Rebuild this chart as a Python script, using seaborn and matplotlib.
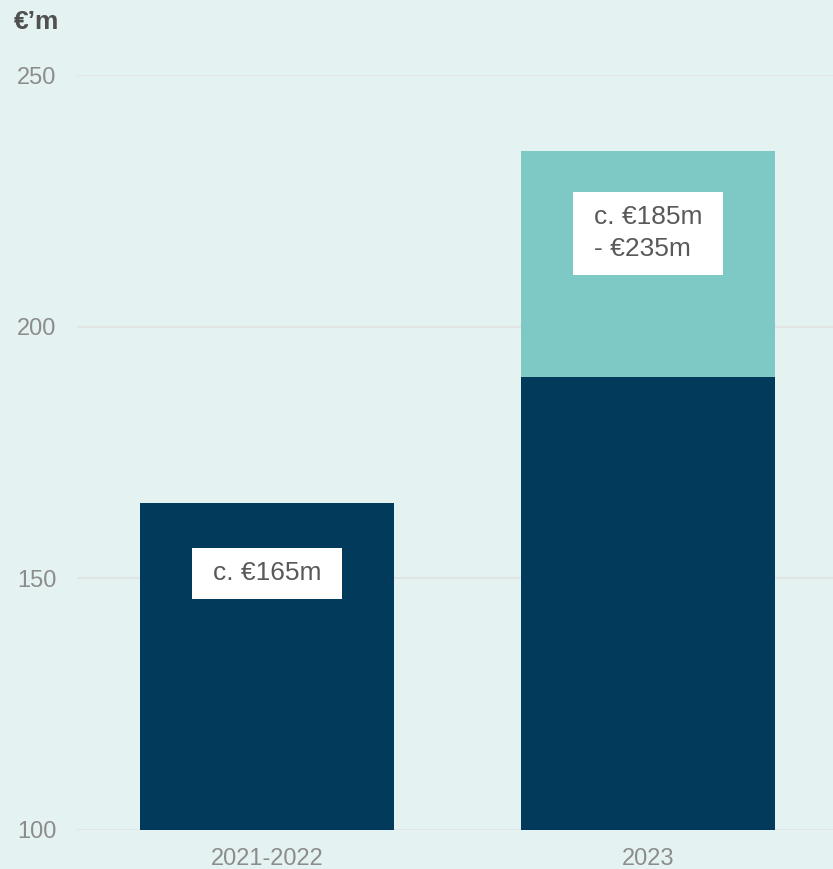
import matplotlib
matplotlib.use("Agg")
import matplotlib.pyplot as plt
import seaborn as sns
import pandas as pd
from matplotlib.patches import Rectangle

periods = ["2021-2022", "2023"]
base_values = [165, 190]
upper_values = [165, 235]
label_texts = ["c. €165m", "c. €185m\n- €235m"]
label_y = [151.0, 218.6]
y_ticks = [100, 150, 200, 250]

BG = "#E4F3F2"
NAVY = "#023A5C"
TEAL = "#7EC9C5"
GRID = "#E3E5E5"
TICK = "#8C8C8C"
TXT = "#595959"

sns.set_theme(style="white")
plt.rcParams["font.family"] = ["Liberation Sans", "DejaVu Sans"]

df = pd.DataFrame({"period": periods, "base": base_values, "upper": upper_values})

fig = plt.figure(figsize=(8.33, 8.69), dpi=100, facecolor=BG)
ax = fig.add_axes([77 / 833, 39 / 869, 756 / 833, 755 / 869])
ax.set_facecolor(BG)

ax.set_axisbelow(True)
sns.barplot(data=df, x="period", y="upper", color=TEAL, width=0.667,
            saturation=1, linewidth=0, edgecolor="none", ax=ax, zorder=2)
sns.barplot(data=df, x="period", y="base", color=NAVY, width=0.667,
            saturation=1, linewidth=0, edgecolor="none", ax=ax, zorder=3)

ax.set_ylim(100, 250)
ax.set_xlim(-0.4987, 1.4856)
ax.set_yticks(y_ticks)
ax.yaxis.grid(True, color=GRID, linewidth=1.6)
ax.xaxis.grid(False)
for s in ax.spines.values():
    s.set_visible(False)
ax.set_xlabel("")
ax.set_ylabel("")
ax.tick_params(axis="y", length=0, pad=15, labelsize=17, labelcolor=TICK)
ax.tick_params(axis="x", length=0, pad=13, labelsize=17, labelcolor=TICK)

fig.text(14 / 833, 1 - 22 / 869, "€’m", ha="left", va="center",
         fontsize=19, fontweight="bold", color="#505050")

fig.canvas.draw()
renderer = fig.canvas.get_renderer()
inv = fig.transFigure.inverted()
for i, (t, yy) in enumerate(zip(label_texts, label_y)):
    pos = inv.transform(ax.transData.transform((i, yy)))
    txt = fig.text(pos[0], pos[1], t, ha="center", va="center",
                   multialignment="left", fontsize=19, color=TXT,
                   zorder=10, linespacing=1.42)
    bb = txt.get_window_extent(renderer)
    padx, pady = 21, 13.5
    rect = Rectangle((bb.x0 - padx, bb.y0 - pady), bb.width + 2 * padx,
                     bb.height + 2 * pady, transform=None,
                     facecolor="white", edgecolor="none", zorder=5)
    fig.add_artist(rect)

fig.savefig("out.png", dpi=100, facecolor=BG)
